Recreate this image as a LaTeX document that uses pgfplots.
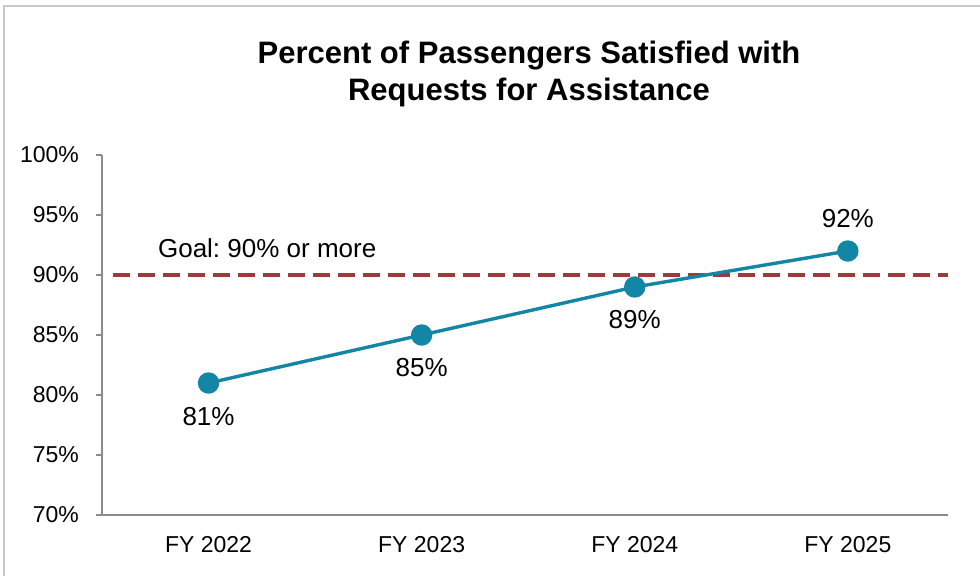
\documentclass[border=0pt]{standalone}
\usepackage{pgfplots}
\pgfplotsset{compat=1.18}
\usepackage{fontspec}
\setmainfont{Liberation Sans}
\definecolor{teal1}{RGB}{20,134,165}
\definecolor{goalred}{RGB}{158,58,58}
\definecolor{axgray}{RGB}{140,140,140}
\definecolor{framegray}{RGB}{200,200,200}
\frenchspacing
\begin{document}
\begin{tikzpicture}[x=1pt,y=1pt]
\useasboundingbox (0,0) rectangle (490,287.5);
\begin{scope}
\clip (0,0) rectangle (490,287.5);
\draw[framegray, line width=0.8pt] (2,-5) rectangle (500,284.5);
\end{scope}
\node[font=\fontsize{15.5}{18.5}\selectfont\bfseries, align=center] at (264.5,250.5) {Percent of Passengers Satisfied with\\Requests for Assistance};
\begin{axis}[
  at={(51pt,30pt)}, anchor=south west,
  scale only axis, width=423pt, height=180pt,
  xmin=-0.5, xmax=3.47, ymin=70, ymax=100,
  xtick={0,1,2,3}, xticklabels={FY 2022,FY 2023,FY 2024,FY 2025},
  ytick={70,75,80,85,90,95,100},
  yticklabel={\pgfmathprintnumber{\tick}\%},
  /pgf/number format/assume math mode=true,
  axis lines*=left,
  axis line style={axgray, line width=0.7pt, -},
  x axis line style={-},
  y axis line style={-},
  tick style={axgray, line width=0.7pt},
  major tick length=3pt,
  xtick style={draw=none},
  ytick pos=left,
  tick align=outside,
  ticklabel style={font=\fontsize{11.5}{13}\selectfont, text=black},
  xticklabel style={yshift=-4pt},
  yticklabel style={xshift=-5pt},
  clip=false,
]
\addplot[goalred, line width=1.6pt, dash pattern=on 8.5pt off 4pt] coordinates {(-0.45,90) (3.47,90)};
\addplot[teal1, line width=1.7pt, mark=*, mark size=4.5pt, mark options={fill=teal1, draw=teal1}] coordinates {(0,81) (1,85) (2,89) (3,92)};
\node[font=\fontsize{13}{15}\selectfont, anchor=west] at (axis cs:-0.27,92.2) {Goal: 90\% or more};
\node[font=\fontsize{13}{15}\selectfont] at (axis cs:0,78.2) {81\%};
\node[font=\fontsize{13}{15}\selectfont] at (axis cs:1,82.3) {85\%};
\node[font=\fontsize{13}{15}\selectfont] at (axis cs:2,86.3) {89\%};
\node[font=\fontsize{13}{15}\selectfont] at (axis cs:3,94.7) {92\%};
\end{axis}
\end{tikzpicture}
\end{document}
